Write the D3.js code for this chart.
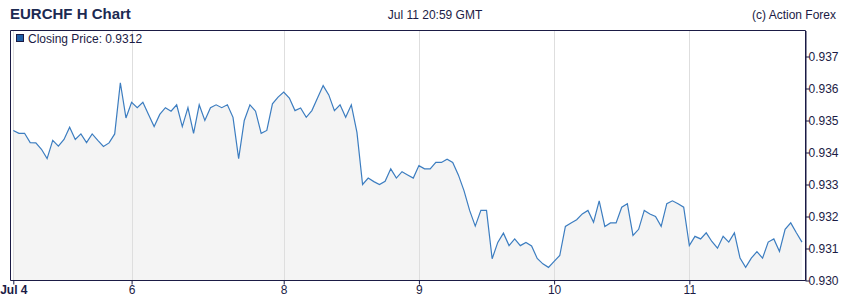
<!DOCTYPE html>
<html>
<head>
<meta charset="utf-8">
<script src="https://cdn.jsdelivr.net/npm/d3@7"></script>
<style>
  body { margin: 0; background: #fff; }
  svg { display: block; font-family: "Liberation Sans", Arial, sans-serif; }
</style>
</head>
<body>
<svg id="svg" width="850" height="301"></svg>
<script>
// hourly closes, weekend skipped
const jul4 = [0.93469,0.93460,0.93460,0.93431,0.93430,0.93410,0.93381,0.93438,0.93420,0.93441,0.93479,0.93441,0.93458,0.93431,0.93458,0.93438,0.93419,0.93430,0.93458,0.93618,0.93508]
const jul6 = [0.93557,0.93540,0.93557]
const jul7 = [0.93519,0.93481,0.93519,0.93540,0.93529,0.93549,0.93481,0.93540,0.93460,0.93549,0.93500,0.93540,0.93549,0.93540,0.93549,0.93510,0.93381,0.93500,0.93549,0.93529,0.93460,0.93469,0.93552,0.93573]
const jul8 = [0.93589,0.93570,0.93531,0.93539,0.93510,0.93531,0.93570,0.93609,0.93580,0.93531,0.93549,0.93510,0.93549,0.93463,0.93300,0.93320,0.93309,0.93300,0.93310,0.93349,0.93320,0.93340,0.93330,0.93320]
const jul9 = [0.93359,0.93349,0.93349,0.93369,0.93369,0.93379,0.93369,0.93330,0.93281,0.93219,0.93170,0.93219,0.93219,0.93068,0.93119,0.93148,0.93109,0.93130,0.93109,0.93119,0.93108,0.93069,0.93052,0.93041]
const jul10 = [0.93060,0.93078,0.93169,0.93180,0.93190,0.93208,0.93219,0.93182,0.93249,0.93169,0.93180,0.93180,0.93229,0.93240,0.93141,0.93160,0.93219,0.93208,0.93200,0.93169,0.93240,0.93249,0.93240,0.93229]
const jul11 = [0.93109,0.93138,0.93130,0.93149,0.93122,0.93101,0.93138,0.93120,0.93149,0.93070,0.93041,0.93070,0.93090,0.93070,0.93120,0.93130,0.93091,0.93160,0.93180,0.93149,0.93120]

const xTickIndex = [0, 21, 48, 72, 96, 120]
const xTickLabels = ['Jul 4', '6', '8', '9', '10', '11']
const yTicks = [0.930, 0.931, 0.932, 0.933, 0.934, 0.935, 0.936, 0.937]

const closes = [].concat(jul4, jul6, jul7, jul8, jul9, jul10, jul11)
const data = closes.map((v, i) => ({ i: i, v: v }))

const plot = { left: 10.5, right: 805.5, top: 30.5, bottom: 280.5 }
const ink = '#1b1b45'

const svg = d3.select('#svg')

// x scale (index based)
const xscale = d3.scaleLinear()
  .domain([0, closes.length - 1])
  .range([13.3, 802])

// y scale
const yscale = d3.scaleLinear()
  .domain([0.930, 0.9378125])
  .range([plot.bottom, plot.top])

// area
const area = d3.area()
  .x(d => xscale(d.i))
  .y0(plot.bottom)
  .y1(d => yscale(d.v))
svg.append('path')
  .datum(data)
  .attr('d', area)
  .attr('fill', '#f4f4f4')

// grid (on top of the area)
svg.append('g')
  .selectAll('line')
  .data(xTickIndex)
  .enter()
  .append('line')
  .attr('x1', d => Math.round(xscale(d)) + 0.5)
  .attr('x2', d => Math.round(xscale(d)) + 0.5)
  .attr('y1', plot.top)
  .attr('y2', plot.bottom)
  .attr('stroke', '#dedede')

const line = d3.line()
  .x(d => xscale(d.i))
  .y(d => yscale(d.v))
svg.append('path')
  .datum(data)
  .attr('d', line)
  .attr('fill', 'none')
  .attr('stroke', '#3c7dc0')
  .attr('stroke-width', 1.2)

// frame
svg.append('path')
  .attr('d', `M${plot.left},${plot.bottom}V${plot.top}H${plot.right}V${plot.bottom}`)
  .attr('fill', 'none')
  .attr('stroke', ink)

// bottom axis
const bottomAxis = d3.axisBottom(xscale)
  .tickValues(xTickIndex)
  .tickFormat((d, i) => xTickLabels[i])
  .tickSize(4)
  .tickSizeOuter(0)
const xg = svg.append('g')
  .attr('transform', `translate(0, ${plot.bottom})`)
  .call(bottomAxis)
xg.select('.domain').attr('d', `M${plot.left},0H${plot.right}`).attr('stroke', ink)
xg.selectAll('.tick line').attr('stroke', ink)
xg.selectAll('.tick text')
  .attr('font-size', 12)
  .attr('font-family', '"Liberation Sans", Arial, sans-serif')
  .attr('fill', ink)
  .attr('dy', '0.75em')
  .attr('y', 4)
  .attr('font-weight', (d, i) => i === 0 ? 'bold' : 'normal')

// right axis
const rightAxis = d3.axisRight(yscale)
  .tickValues(yTicks)
  .tickFormat(d3.format('.3f'))
  .tickSize(4)
  .tickSizeOuter(0)
const yg = svg.append('g')
  .attr('transform', `translate(${plot.right}, 0)`)
  .call(rightAxis)
yg.select('.domain').attr('stroke', ink)
yg.selectAll('.tick line').attr('stroke', ink)
yg.selectAll('.tick text')
  .attr('font-size', 12)
  .attr('font-family', '"Liberation Sans", Arial, sans-serif')
  .attr('fill', ink)
  .attr('x', 3)

// titles
svg.append('text')
  .attr('x', 10)
  .attr('y', 19)
  .attr('font-size', 15)
  .attr('font-weight', 'bold')
  .attr('fill', '#1c2a52')
  .text('EURCHF H Chart')

svg.append('text')
  .attr('x', 435)
  .attr('y', 19)
  .attr('text-anchor', 'middle')
  .attr('font-size', 12)
  .attr('fill', ink)
  .text('Jul 11 20:59 GMT')

svg.append('text')
  .attr('x', 836)
  .attr('y', 19)
  .attr('text-anchor', 'end')
  .attr('font-size', 12)
  .attr('fill', ink)
  .text('(c) Action Forex')

// legend
svg.append('rect')
  .attr('x', 16.5)
  .attr('y', 34.5)
  .attr('width', 7)
  .attr('height', 7)
  .attr('fill', '#1f5fa6')
  .attr('stroke', ink)

svg.append('text')
  .attr('x', 28)
  .attr('y', 42.5)
  .attr('font-size', 12)
  .attr('fill', ink)
  .text('Closing Price: ' + d3.format('.4f')(closes[closes.length - 1]))
</script>
</body>
</html>
